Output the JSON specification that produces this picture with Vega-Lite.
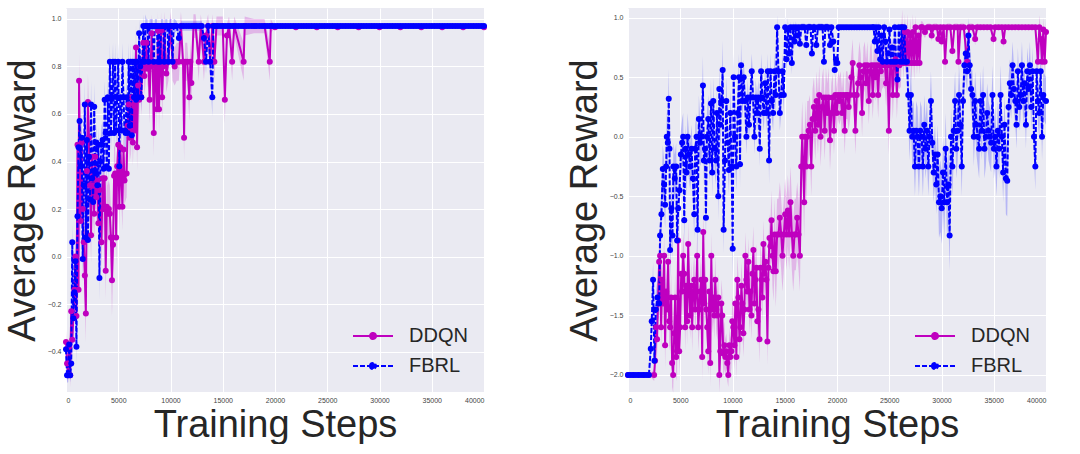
{
"$schema": "https://vega.github.io/schema/vega-lite/v6.json",
"background": "white",
"padding": {"left": 4, "top": 8, "right": 0, "bottom": 0},
"spacing": 78,
"config": {
 "view": {"fill": "#EAEAF2", "stroke": null},
 "font": "Liberation Sans",
 "axis": {"grid": true, "gridColor": "#FFFFFF", "gridWidth": 1, "gridOpacity": 1, "domain": false, "ticks": false, "labelFont": "Liberation Sans", "labelFontSize": 7, "labelColor": "#444444", "labelPadding": 5, "titleFont": "Liberation Sans", "titleFontSize": 38, "titleFontWeight": "normal", "titleColor": "#262626", "titlePadding": 5},
 "axisX": {"labelPadding": 4, "titlePadding": 3},
 "legend": {"orient": "bottom-right", "offset": 16, "labelFontSize": 20, "labelColor": "#262626", "labelFont": "Liberation Sans", "symbolType": "M-2,0L2,0M-0.3,0A0.3,0.3,0,1,1,0.3,0A0.3,0.3,0,1,1,-0.3,0Z", "symbolSize": 400, "symbolStrokeWidth": 2, "rowPadding": 9, "labelOffset": 25, "padding": 0}
},
"datasets": {
"left": [
{"a":"DDQN","x":0,"y":-0.36,"e":0.05},{"a":"DDQN","x":100,"y":-0.45,"e":0.05},{"a":"DDQN","x":200,"y":-0.5,"e":0.03},{"a":"DDQN","x":300,"y":-0.38,"e":0.05},{"a":"DDQN","x":400,"y":-0.5,"e":0.05},{"a":"DDQN","x":500,"y":-0.23,"e":0.08},{"a":"DDQN","x":600,"y":-0.35,"e":0.08},{"a":"DDQN","x":700,"y":-0.26,"e":0.08},{"a":"DDQN","x":800,"y":-0.14,"e":0.08},{"a":"DDQN","x":900,"y":0.0,"e":0.1},{"a":"DDQN","x":1000,"y":-0.25,"e":0.1},{"a":"DDQN","x":1100,"y":0.47,"e":0.12},{"a":"DDQN","x":1200,"y":-0.14,"e":0.12},{"a":"DDQN","x":1250,"y":0.74,"e":0.12},{"a":"DDQN","x":1400,"y":0.15,"e":0.12},{"a":"DDQN","x":1500,"y":0.48,"e":0.12},{"a":"DDQN","x":1600,"y":0.2,"e":0.12},{"a":"DDQN","x":1700,"y":0.06,"e":0.12},{"a":"DDQN","x":1800,"y":-0.08,"e":0.12},{"a":"DDQN","x":1900,"y":-0.24,"e":0.12},{"a":"DDQN","x":2000,"y":0.36,"e":0.12},{"a":"DDQN","x":2100,"y":0.65,"e":0.12},{"a":"DDQN","x":2200,"y":0.5,"e":0.12},{"a":"DDQN","x":2300,"y":0.3,"e":0.12},{"a":"DDQN","x":2400,"y":0.09,"e":0.12},{"a":"DDQN","x":2500,"y":0.42,"e":0.12},{"a":"DDQN","x":2600,"y":0.3,"e":0.12},{"a":"DDQN","x":2700,"y":0.18,"e":0.12},{"a":"DDQN","x":2800,"y":0.42,"e":0.12},{"a":"DDQN","x":2900,"y":0.25,"e":0.12},{"a":"DDQN","x":3000,"y":0.32,"e":0.12},{"a":"DDQN","x":3100,"y":0.14,"e":0.12},{"a":"DDQN","x":3200,"y":0.28,"e":0.12},{"a":"DDQN","x":3400,"y":0.06,"e":0.12},{"a":"DDQN","x":3500,"y":0.33,"e":0.12},{"a":"DDQN","x":3600,"y":0.2,"e":0.12},{"a":"DDQN","x":3700,"y":0.33,"e":0.12},{"a":"DDQN","x":3800,"y":-0.06,"e":0.12},{"a":"DDQN","x":3900,"y":0.21,"e":0.12},{"a":"DDQN","x":4000,"y":0.18,"e":0.12},{"a":"DDQN","x":4100,"y":0.2,"e":0.12},{"a":"DDQN","x":4200,"y":0.18,"e":0.12},{"a":"DDQN","x":4300,"y":0.08,"e":0.12},{"a":"DDQN","x":4400,"y":-0.1,"e":0.15},{"a":"DDQN","x":4500,"y":0.05,"e":0.12},{"a":"DDQN","x":4600,"y":0.34,"e":0.12},{"a":"DDQN","x":4700,"y":0.35,"e":0.12},{"a":"DDQN","x":4800,"y":0.08,"e":0.12},{"a":"DDQN","x":4900,"y":0.38,"e":0.12},{"a":"DDQN","x":5000,"y":0.47,"e":0.1},{"a":"DDQN","x":5100,"y":0.21,"e":0.1},{"a":"DDQN","x":5200,"y":0.46,"e":0.1},{"a":"DDQN","x":5300,"y":0.33,"e":0.1},{"a":"DDQN","x":5400,"y":0.21,"e":0.1},{"a":"DDQN","x":5500,"y":0.45,"e":0.1},{"a":"DDQN","x":5600,"y":0.32,"e":0.1},{"a":"DDQN","x":5800,"y":0.35,"e":0.1},{"a":"DDQN","x":5900,"y":0.55,"e":0.1},{"a":"DDQN","x":6000,"y":0.64,"e":0.1},{"a":"DDQN","x":6100,"y":0.5,"e":0.1},{"a":"DDQN","x":6200,"y":0.53,"e":0.1},{"a":"DDQN","x":6300,"y":0.67,"e":0.1},{"a":"DDQN","x":6400,"y":0.48,"e":0.1},{"a":"DDQN","x":6500,"y":0.64,"e":0.1},{"a":"DDQN","x":6600,"y":0.53,"e":0.1},{"a":"DDQN","x":6700,"y":0.88,"e":0.1},{"a":"DDQN","x":6800,"y":0.46,"e":0.1},{"a":"DDQN","x":6900,"y":0.72,"e":0.1},{"a":"DDQN","x":7000,"y":0.66,"e":0.1},{"a":"DDQN","x":7100,"y":0.8,"e":0.08},{"a":"DDQN","x":7200,"y":0.67,"e":0.08},{"a":"DDQN","x":7300,"y":0.8,"e":0.08},{"a":"DDQN","x":7400,"y":0.9,"e":0.08},{"a":"DDQN","x":7500,"y":0.76,"e":0.08},{"a":"DDQN","x":7600,"y":0.8,"e":0.08},{"a":"DDQN","x":7700,"y":0.9,"e":0.08},{"a":"DDQN","x":7800,"y":0.79,"e":0.08},{"a":"DDQN","x":7900,"y":0.82,"e":0.08},{"a":"DDQN","x":8000,"y":0.66,"e":0.1},{"a":"DDQN","x":8100,"y":0.8,"e":0.08},{"a":"DDQN","x":8200,"y":0.94,"e":0.08},{"a":"DDQN","x":8300,"y":0.82,"e":0.08},{"a":"DDQN","x":8400,"y":0.52,"e":0.1},{"a":"DDQN","x":8500,"y":0.78,"e":0.08},{"a":"DDQN","x":8600,"y":0.8,"e":0.08},{"a":"DDQN","x":8700,"y":0.62,"e":0.1},{"a":"DDQN","x":8800,"y":0.95,"e":0.08},{"a":"DDQN","x":8900,"y":0.62,"e":0.1},{"a":"DDQN","x":9000,"y":0.8,"e":0.08},{"a":"DDQN","x":9100,"y":0.95,"e":0.08},{"a":"DDQN","x":9200,"y":0.67,"e":0.1},{"a":"DDQN","x":9300,"y":0.8,"e":0.08},{"a":"DDQN","x":9400,"y":0.97,"e":0.06},{"a":"DDQN","x":9600,"y":0.77,"e":0.08},{"a":"DDQN","x":9800,"y":0.82,"e":0.08},{"a":"DDQN","x":10000,"y":0.97,"e":0.06},{"a":"DDQN","x":10200,"y":0.82,"e":0.08},{"a":"DDQN","x":10400,"y":0.8,"e":0.08},{"a":"DDQN","x":10600,"y":0.82,"e":0.08},{"a":"DDQN","x":10800,"y":0.82,"e":0.08},{"a":"DDQN","x":11000,"y":0.97,"e":0.06},{"a":"DDQN","x":11200,"y":0.82,"e":0.08},{"a":"DDQN","x":11300,"y":0.5,"e":0.1},{"a":"DDQN","x":11400,"y":0.82,"e":0.08},{"a":"DDQN","x":11600,"y":0.82,"e":0.08},{"a":"DDQN","x":11800,"y":0.67,"e":0.1},{"a":"DDQN","x":11900,"y":0.82,"e":0.08},{"a":"DDQN","x":12000,"y":0.73,"e":0.08},{"a":"DDQN","x":12200,"y":0.97,"e":0.05},{"a":"DDQN","x":12400,"y":0.97,"e":0.05},{"a":"DDQN","x":12700,"y":0.82,"e":0.08},{"a":"DDQN","x":12900,"y":0.97,"e":0.05},{"a":"DDQN","x":13200,"y":0.82,"e":0.08},{"a":"DDQN","x":13400,"y":0.93,"e":0.05},{"a":"DDQN","x":13600,"y":0.97,"e":0.05},{"a":"DDQN","x":13800,"y":0.82,"e":0.08},{"a":"DDQN","x":14000,"y":0.97,"e":0.05},{"a":"DDQN","x":14200,"y":0.82,"e":0.08},{"a":"DDQN","x":14400,"y":0.97,"e":0.04},{"a":"DDQN","x":15000,"y":0.97,"e":0.04},{"a":"DDQN","x":15200,"y":0.66,"e":0.1},{"a":"DDQN","x":15400,"y":0.93,"e":0.05},{"a":"DDQN","x":15600,"y":0.97,"e":0.04},{"a":"DDQN","x":15900,"y":0.82,"e":0.08},{"a":"DDQN","x":16100,"y":0.97,"e":0.04},{"a":"DDQN","x":17000,"y":0.82,"e":0.08},{"a":"DDQN","x":17100,"y":0.97,"e":0.04},{"a":"DDQN","x":18000,"y":0.97,"e":0.03},{"a":"DDQN","x":19000,"y":0.97,"e":0.03},{"a":"DDQN","x":19500,"y":0.82,"e":0.08},{"a":"DDQN","x":19600,"y":0.97,"e":0.03},{"a":"DDQN","x":20000,"y":0.965,"e":0},{"a":"DDQN","x":22000,"y":0.965,"e":0},{"a":"DDQN","x":24000,"y":0.965,"e":0},{"a":"DDQN","x":26000,"y":0.965,"e":0},{"a":"DDQN","x":28000,"y":0.965,"e":0},{"a":"DDQN","x":30000,"y":0.965,"e":0},{"a":"DDQN","x":32000,"y":0.965,"e":0},{"a":"DDQN","x":34000,"y":0.965,"e":0},{"a":"DDQN","x":36000,"y":0.965,"e":0},{"a":"DDQN","x":38000,"y":0.965,"e":0},{"a":"DDQN","x":40000,"y":0.965,"e":0},
{"a":"FBRL","x":0,"y":-0.39,"e":0.05},{"a":"FBRL","x":100,"y":-0.5,"e":0.03},{"a":"FBRL","x":200,"y":-0.5,"e":0.03},{"a":"FBRL","x":300,"y":-0.37,"e":0.05},{"a":"FBRL","x":400,"y":-0.5,"e":0.03},{"a":"FBRL","x":500,"y":-0.45,"e":0.05},{"a":"FBRL","x":600,"y":0.06,"e":0.08},{"a":"FBRL","x":700,"y":-0.26,"e":0.08},{"a":"FBRL","x":800,"y":-0.15,"e":0.08},{"a":"FBRL","x":900,"y":-0.02,"e":0.08},{"a":"FBRL","x":1000,"y":-0.38,"e":0.08},{"a":"FBRL","x":1100,"y":0.17,"e":0.1},{"a":"FBRL","x":1200,"y":0.46,"e":0.1},{"a":"FBRL","x":1300,"y":0.57,"e":0.1},{"a":"FBRL","x":1400,"y":0.38,"e":0.1},{"a":"FBRL","x":1500,"y":0.5,"e":0.1},{"a":"FBRL","x":1600,"y":-0.01,"e":0.1},{"a":"FBRL","x":1700,"y":0.3,"e":0.1},{"a":"FBRL","x":1800,"y":0.64,"e":0.1},{"a":"FBRL","x":1900,"y":0.08,"e":0.1},{"a":"FBRL","x":2000,"y":0.49,"e":0.1},{"a":"FBRL","x":2100,"y":0.07,"e":0.1},{"a":"FBRL","x":2200,"y":0.42,"e":0.1},{"a":"FBRL","x":2300,"y":0.24,"e":0.1},{"a":"FBRL","x":2400,"y":0.64,"e":0.1},{"a":"FBRL","x":2500,"y":0.33,"e":0.1},{"a":"FBRL","x":2600,"y":0.23,"e":0.1},{"a":"FBRL","x":2700,"y":0.63,"e":0.1},{"a":"FBRL","x":2800,"y":0.35,"e":0.1},{"a":"FBRL","x":2900,"y":0.48,"e":0.08},{"a":"FBRL","x":3000,"y":0.3,"e":0.08},{"a":"FBRL","x":3100,"y":0.47,"e":0.08},{"a":"FBRL","x":3200,"y":-0.09,"e":0.1},{"a":"FBRL","x":3300,"y":0.4,"e":0.08},{"a":"FBRL","x":3400,"y":0.47,"e":0.08},{"a":"FBRL","x":3500,"y":0.49,"e":0.08},{"a":"FBRL","x":3600,"y":0.37,"e":0.08},{"a":"FBRL","x":3700,"y":0.66,"e":0.08},{"a":"FBRL","x":3800,"y":0.52,"e":0.08},{"a":"FBRL","x":3900,"y":0.38,"e":0.08},{"a":"FBRL","x":4000,"y":0.67,"e":0.08},{"a":"FBRL","x":4100,"y":0.37,"e":0.08},{"a":"FBRL","x":4200,"y":0.82,"e":0.08},{"a":"FBRL","x":4300,"y":0.52,"e":0.08},{"a":"FBRL","x":4400,"y":0.67,"e":0.08},{"a":"FBRL","x":4500,"y":0.82,"e":0.08},{"a":"FBRL","x":4600,"y":0.52,"e":0.08},{"a":"FBRL","x":4700,"y":0.82,"e":0.08},{"a":"FBRL","x":4800,"y":0.53,"e":0.08},{"a":"FBRL","x":4900,"y":0.67,"e":0.08},{"a":"FBRL","x":5000,"y":0.82,"e":0.08},{"a":"FBRL","x":5100,"y":0.38,"e":0.08},{"a":"FBRL","x":5200,"y":0.67,"e":0.08},{"a":"FBRL","x":5300,"y":0.53,"e":0.08},{"a":"FBRL","x":5400,"y":0.82,"e":0.08},{"a":"FBRL","x":5500,"y":0.67,"e":0.08},{"a":"FBRL","x":5600,"y":0.53,"e":0.08},{"a":"FBRL","x":5700,"y":0.52,"e":0.08},{"a":"FBRL","x":5800,"y":0.67,"e":0.08},{"a":"FBRL","x":5900,"y":0.52,"e":0.08},{"a":"FBRL","x":6000,"y":0.82,"e":0.08},{"a":"FBRL","x":6100,"y":0.55,"e":0.08},{"a":"FBRL","x":6200,"y":0.82,"e":0.08},{"a":"FBRL","x":6300,"y":0.51,"e":0.08},{"a":"FBRL","x":6400,"y":0.82,"e":0.08},{"a":"FBRL","x":6500,"y":0.67,"e":0.08},{"a":"FBRL","x":6600,"y":0.82,"e":0.08},{"a":"FBRL","x":6700,"y":0.66,"e":0.08},{"a":"FBRL","x":6800,"y":0.82,"e":0.06},{"a":"FBRL","x":6900,"y":0.67,"e":0.06},{"a":"FBRL","x":7000,"y":0.94,"e":0.06},{"a":"FBRL","x":7100,"y":0.8,"e":0.06},{"a":"FBRL","x":7200,"y":0.67,"e":0.06},{"a":"FBRL","x":7300,"y":0.82,"e":0.06},{"a":"FBRL","x":7400,"y":0.97,"e":0.05},{"a":"FBRL","x":7500,"y":0.82,"e":0.05},{"a":"FBRL","x":7600,"y":0.97,"e":0.05},{"a":"FBRL","x":7700,"y":0.97,"e":0.03},{"a":"FBRL","x":7800,"y":0.97,"e":0.03},{"a":"FBRL","x":7900,"y":0.82,"e":0.05},{"a":"FBRL","x":8000,"y":0.97,"e":0.03},{"a":"FBRL","x":8100,"y":0.97,"e":0.03},{"a":"FBRL","x":8200,"y":0.97,"e":0.03},{"a":"FBRL","x":8300,"y":0.97,"e":0.03},{"a":"FBRL","x":8400,"y":0.82,"e":0.05},{"a":"FBRL","x":8500,"y":0.97,"e":0.03},{"a":"FBRL","x":8600,"y":0.97,"e":0.03},{"a":"FBRL","x":8700,"y":0.97,"e":0.03},{"a":"FBRL","x":8800,"y":0.82,"e":0.05},{"a":"FBRL","x":8900,"y":0.97,"e":0.03},{"a":"FBRL","x":9000,"y":0.82,"e":0.05},{"a":"FBRL","x":9100,"y":0.97,"e":0.03},{"a":"FBRL","x":9200,"y":0.97,"e":0.03},{"a":"FBRL","x":9300,"y":0.97,"e":0.03},{"a":"FBRL","x":9400,"y":0.82,"e":0.05},{"a":"FBRL","x":9500,"y":0.97,"e":0.03},{"a":"FBRL","x":9600,"y":0.97,"e":0.03},{"a":"FBRL","x":9700,"y":0.97,"e":0.03},{"a":"FBRL","x":9800,"y":0.82,"e":0.05},{"a":"FBRL","x":9900,"y":0.97,"e":0.03},{"a":"FBRL","x":10000,"y":0.97,"e":0.03},{"a":"FBRL","x":10100,"y":0.97,"e":0.03},{"a":"FBRL","x":10200,"y":0.82,"e":0.05},{"a":"FBRL","x":10300,"y":0.97,"e":0.03},{"a":"FBRL","x":10400,"y":0.97,"e":0.03},{"a":"FBRL","x":10600,"y":0.97,"e":0.02},{"a":"FBRL","x":10800,"y":0.92,"e":0.03},{"a":"FBRL","x":11000,"y":0.97,"e":0.02},{"a":"FBRL","x":11250,"y":0.97,"e":0.02},{"a":"FBRL","x":11500,"y":0.97,"e":0.02},{"a":"FBRL","x":11750,"y":0.97,"e":0.02},{"a":"FBRL","x":12000,"y":0.97,"e":0.02},{"a":"FBRL","x":12250,"y":0.97,"e":0.02},{"a":"FBRL","x":12500,"y":0.97,"e":0.02},{"a":"FBRL","x":12750,"y":0.97,"e":0.02},{"a":"FBRL","x":13000,"y":0.97,"e":0.02},{"a":"FBRL","x":13200,"y":0.92,"e":0.03},{"a":"FBRL","x":13400,"y":0.82,"e":0.05},{"a":"FBRL","x":13600,"y":0.97,"e":0.03},{"a":"FBRL","x":13800,"y":0.82,"e":0.05},{"a":"FBRL","x":14000,"y":0.67,"e":0.08},{"a":"FBRL","x":14100,"y":0.97,"e":0.02},{"a":"FBRL","x":14250,"y":0.97,"e":0},{"a":"FBRL","x":14500,"y":0.97,"e":0},{"a":"FBRL","x":14750,"y":0.97,"e":0},{"a":"FBRL","x":15000,"y":0.97,"e":0},{"a":"FBRL","x":15250,"y":0.97,"e":0},{"a":"FBRL","x":15500,"y":0.97,"e":0},{"a":"FBRL","x":15750,"y":0.97,"e":0},{"a":"FBRL","x":16000,"y":0.97,"e":0},{"a":"FBRL","x":16250,"y":0.97,"e":0},{"a":"FBRL","x":16500,"y":0.97,"e":0},{"a":"FBRL","x":16750,"y":0.97,"e":0},{"a":"FBRL","x":17000,"y":0.97,"e":0},{"a":"FBRL","x":17250,"y":0.97,"e":0},{"a":"FBRL","x":17500,"y":0.97,"e":0},{"a":"FBRL","x":17750,"y":0.97,"e":0},{"a":"FBRL","x":18000,"y":0.97,"e":0},{"a":"FBRL","x":18250,"y":0.97,"e":0},{"a":"FBRL","x":18500,"y":0.97,"e":0},{"a":"FBRL","x":18750,"y":0.97,"e":0},{"a":"FBRL","x":19000,"y":0.97,"e":0},{"a":"FBRL","x":19250,"y":0.97,"e":0},{"a":"FBRL","x":19500,"y":0.97,"e":0},{"a":"FBRL","x":19750,"y":0.97,"e":0},{"a":"FBRL","x":20000,"y":0.97,"e":0},{"a":"FBRL","x":20250,"y":0.97,"e":0},{"a":"FBRL","x":20500,"y":0.97,"e":0},{"a":"FBRL","x":20750,"y":0.97,"e":0},{"a":"FBRL","x":21000,"y":0.97,"e":0},{"a":"FBRL","x":21250,"y":0.97,"e":0},{"a":"FBRL","x":21500,"y":0.97,"e":0},{"a":"FBRL","x":21750,"y":0.97,"e":0},{"a":"FBRL","x":22000,"y":0.97,"e":0},{"a":"FBRL","x":22250,"y":0.97,"e":0},{"a":"FBRL","x":22500,"y":0.97,"e":0},{"a":"FBRL","x":22750,"y":0.97,"e":0},{"a":"FBRL","x":23000,"y":0.97,"e":0},{"a":"FBRL","x":23250,"y":0.97,"e":0},{"a":"FBRL","x":23500,"y":0.97,"e":0},{"a":"FBRL","x":23750,"y":0.97,"e":0},{"a":"FBRL","x":24000,"y":0.97,"e":0},{"a":"FBRL","x":24250,"y":0.97,"e":0},{"a":"FBRL","x":24500,"y":0.97,"e":0},{"a":"FBRL","x":24750,"y":0.97,"e":0},{"a":"FBRL","x":25000,"y":0.97,"e":0},{"a":"FBRL","x":25250,"y":0.97,"e":0},{"a":"FBRL","x":25500,"y":0.97,"e":0},{"a":"FBRL","x":25750,"y":0.97,"e":0},{"a":"FBRL","x":26000,"y":0.97,"e":0},{"a":"FBRL","x":26250,"y":0.97,"e":0},{"a":"FBRL","x":26500,"y":0.97,"e":0},{"a":"FBRL","x":26750,"y":0.97,"e":0},{"a":"FBRL","x":27000,"y":0.97,"e":0},{"a":"FBRL","x":27250,"y":0.97,"e":0},{"a":"FBRL","x":27500,"y":0.97,"e":0},{"a":"FBRL","x":27750,"y":0.97,"e":0},{"a":"FBRL","x":28000,"y":0.97,"e":0},{"a":"FBRL","x":28250,"y":0.97,"e":0},{"a":"FBRL","x":28500,"y":0.97,"e":0},{"a":"FBRL","x":28750,"y":0.97,"e":0},{"a":"FBRL","x":29000,"y":0.97,"e":0},{"a":"FBRL","x":29250,"y":0.97,"e":0},{"a":"FBRL","x":29500,"y":0.97,"e":0},{"a":"FBRL","x":29750,"y":0.97,"e":0},{"a":"FBRL","x":30000,"y":0.97,"e":0},{"a":"FBRL","x":30250,"y":0.97,"e":0},{"a":"FBRL","x":30500,"y":0.97,"e":0},{"a":"FBRL","x":30750,"y":0.97,"e":0},{"a":"FBRL","x":31000,"y":0.97,"e":0},{"a":"FBRL","x":31250,"y":0.97,"e":0},{"a":"FBRL","x":31500,"y":0.97,"e":0},{"a":"FBRL","x":31750,"y":0.97,"e":0},{"a":"FBRL","x":32000,"y":0.97,"e":0},{"a":"FBRL","x":32250,"y":0.97,"e":0},{"a":"FBRL","x":32500,"y":0.97,"e":0},{"a":"FBRL","x":32750,"y":0.97,"e":0},{"a":"FBRL","x":33000,"y":0.97,"e":0},{"a":"FBRL","x":33250,"y":0.97,"e":0},{"a":"FBRL","x":33500,"y":0.97,"e":0},{"a":"FBRL","x":33750,"y":0.97,"e":0},{"a":"FBRL","x":34000,"y":0.97,"e":0},{"a":"FBRL","x":34250,"y":0.97,"e":0},{"a":"FBRL","x":34500,"y":0.97,"e":0},{"a":"FBRL","x":34750,"y":0.97,"e":0},{"a":"FBRL","x":35000,"y":0.97,"e":0},{"a":"FBRL","x":35250,"y":0.97,"e":0},{"a":"FBRL","x":35500,"y":0.97,"e":0},{"a":"FBRL","x":35750,"y":0.97,"e":0},{"a":"FBRL","x":36000,"y":0.97,"e":0},{"a":"FBRL","x":36250,"y":0.97,"e":0},{"a":"FBRL","x":36500,"y":0.97,"e":0},{"a":"FBRL","x":36750,"y":0.97,"e":0},{"a":"FBRL","x":37000,"y":0.97,"e":0},{"a":"FBRL","x":37250,"y":0.97,"e":0},{"a":"FBRL","x":37500,"y":0.97,"e":0},{"a":"FBRL","x":37750,"y":0.97,"e":0},{"a":"FBRL","x":38000,"y":0.97,"e":0},{"a":"FBRL","x":38250,"y":0.97,"e":0},{"a":"FBRL","x":38500,"y":0.97,"e":0},{"a":"FBRL","x":38750,"y":0.97,"e":0},{"a":"FBRL","x":39000,"y":0.97,"e":0},{"a":"FBRL","x":39250,"y":0.97,"e":0},{"a":"FBRL","x":39500,"y":0.97,"e":0},{"a":"FBRL","x":39750,"y":0.97,"e":0},{"a":"FBRL","x":40000,"y":0.97,"e":0}
],
"right": [
{"a":"DDQN","x":0,"y":-2,"e":0},{"a":"DDQN","x":500,"y":-2,"e":0},{"a":"DDQN","x":1000,"y":-2,"e":0},{"a":"DDQN","x":1500,"y":-2,"e":0},{"a":"DDQN","x":2000,"y":-2,"e":0},{"a":"DDQN","x":2500,"y":-2,"e":0.05},{"a":"DDQN","x":2590,"y":-1.88,"e":0.1},{"a":"DDQN","x":2690,"y":-1.6,"e":0.15},{"a":"DDQN","x":2780,"y":-1.7,"e":0.15},{"a":"DDQN","x":2880,"y":-1.35,"e":0.2},{"a":"DDQN","x":2980,"y":-1.05,"e":0.2},{"a":"DDQN","x":3070,"y":-1.0,"e":0.2},{"a":"DDQN","x":3170,"y":-1.6,"e":0.2},{"a":"DDQN","x":3260,"y":-1.2,"e":0.2},{"a":"DDQN","x":3360,"y":-1.4,"e":0.2},{"a":"DDQN","x":3460,"y":-1.0,"e":0.2},{"a":"DDQN","x":3550,"y":-1.75,"e":0.2},{"a":"DDQN","x":3650,"y":-1.3,"e":0.2},{"a":"DDQN","x":3740,"y":-1.45,"e":0.2},{"a":"DDQN","x":3840,"y":-1.05,"e":0.2},{"a":"DDQN","x":3940,"y":-1.55,"e":0.2},{"a":"DDQN","x":4030,"y":-1.6,"e":0.2},{"a":"DDQN","x":4130,"y":-1.35,"e":0.2},{"a":"DDQN","x":4220,"y":-1.9,"e":0.2},{"a":"DDQN","x":4320,"y":-2.0,"e":0.15},{"a":"DDQN","x":4420,"y":-1.65,"e":0.2},{"a":"DDQN","x":4510,"y":-1.35,"e":0.2},{"a":"DDQN","x":4610,"y":-1.85,"e":0.2},{"a":"DDQN","x":4700,"y":-1.8,"e":0.2},{"a":"DDQN","x":4800,"y":-0.87,"e":0.25},{"a":"DDQN","x":4900,"y":-1.8,"e":0.2},{"a":"DDQN","x":4990,"y":-1.6,"e":0.2},{"a":"DDQN","x":5090,"y":-1.15,"e":0.2},{"a":"DDQN","x":5180,"y":-1.3,"e":0.2},{"a":"DDQN","x":5280,"y":-1.0,"e":0.2},{"a":"DDQN","x":5380,"y":-1.15,"e":0.2},{"a":"DDQN","x":5470,"y":-1.6,"e":0.2},{"a":"DDQN","x":5570,"y":-1.25,"e":0.2},{"a":"DDQN","x":5660,"y":-1.55,"e":0.2},{"a":"DDQN","x":5760,"y":-0.9,"e":0.2},{"a":"DDQN","x":5860,"y":-1.3,"e":0.2},{"a":"DDQN","x":5950,"y":-1.5,"e":0.2},{"a":"DDQN","x":6050,"y":-1.25,"e":0.2},{"a":"DDQN","x":6140,"y":-1.6,"e":0.2},{"a":"DDQN","x":6240,"y":-1.3,"e":0.2},{"a":"DDQN","x":6340,"y":-1.2,"e":0.2},{"a":"DDQN","x":6430,"y":-1.45,"e":0.2},{"a":"DDQN","x":6530,"y":-1.3,"e":0.2},{"a":"DDQN","x":6620,"y":-1.0,"e":0.2},{"a":"DDQN","x":6720,"y":-1.6,"e":0.2},{"a":"DDQN","x":6820,"y":-1.45,"e":0.2},{"a":"DDQN","x":6910,"y":-1.3,"e":0.2},{"a":"DDQN","x":7010,"y":-1.2,"e":0.2},{"a":"DDQN","x":7100,"y":-1.85,"e":0.2},{"a":"DDQN","x":7200,"y":-0.8,"e":0.25},{"a":"DDQN","x":7300,"y":-1.4,"e":0.2},{"a":"DDQN","x":7390,"y":-1.2,"e":0.2},{"a":"DDQN","x":7490,"y":-1.45,"e":0.2},{"a":"DDQN","x":7580,"y":-1.6,"e":0.2},{"a":"DDQN","x":7680,"y":-1.8,"e":0.2},{"a":"DDQN","x":7780,"y":-1.3,"e":0.2},{"a":"DDQN","x":7870,"y":-1.9,"e":0.2},{"a":"DDQN","x":7970,"y":-1.0,"e":0.2},{"a":"DDQN","x":8060,"y":-1.45,"e":0.2},{"a":"DDQN","x":8160,"y":-1.35,"e":0.2},{"a":"DDQN","x":8260,"y":-1.5,"e":0.2},{"a":"DDQN","x":8350,"y":-1.2,"e":0.2},{"a":"DDQN","x":8450,"y":-1.45,"e":0.2},{"a":"DDQN","x":8540,"y":-1.5,"e":0.2},{"a":"DDQN","x":8640,"y":-1.35,"e":0.2},{"a":"DDQN","x":8740,"y":-2.0,"e":0.15},{"a":"DDQN","x":8830,"y":-1.8,"e":0.2},{"a":"DDQN","x":8930,"y":-1.4,"e":0.2},{"a":"DDQN","x":9020,"y":-1.5,"e":0.2},{"a":"DDQN","x":9120,"y":-1.82,"e":0.2},{"a":"DDQN","x":9220,"y":-1.75,"e":0.2},{"a":"DDQN","x":9310,"y":-1.85,"e":0.15},{"a":"DDQN","x":9410,"y":-1.8,"e":0.15},{"a":"DDQN","x":9500,"y":-1.9,"e":0.15},{"a":"DDQN","x":9600,"y":-2.0,"e":0.1},{"a":"DDQN","x":9700,"y":-1.75,"e":0.15},{"a":"DDQN","x":9790,"y":-1.85,"e":0.15},{"a":"DDQN","x":9890,"y":-1.8,"e":0.15},{"a":"DDQN","x":9980,"y":-1.55,"e":0.2},{"a":"DDQN","x":10080,"y":-1.6,"e":0.2},{"a":"DDQN","x":10180,"y":-1.75,"e":0.2},{"a":"DDQN","x":10270,"y":-1.4,"e":0.2},{"a":"DDQN","x":10370,"y":-1.85,"e":0.2},{"a":"DDQN","x":10460,"y":-1.2,"e":0.2},{"a":"DDQN","x":10560,"y":-1.35,"e":0.2},{"a":"DDQN","x":10660,"y":-1.7,"e":0.2},{"a":"DDQN","x":10750,"y":-1.6,"e":0.2},{"a":"DDQN","x":10850,"y":-1.25,"e":0.2},{"a":"DDQN","x":10940,"y":-1.4,"e":0.2},{"a":"DDQN","x":11040,"y":-1.65,"e":0.2},{"a":"DDQN","x":11140,"y":-1.45,"e":0.2},{"a":"DDQN","x":11230,"y":-1.0,"e":0.2},{"a":"DDQN","x":11330,"y":-1.2,"e":0.2},{"a":"DDQN","x":11420,"y":-1.3,"e":0.2},{"a":"DDQN","x":11520,"y":-1.05,"e":0.2},{"a":"DDQN","x":11620,"y":-1.45,"e":0.2},{"a":"DDQN","x":11710,"y":-1.3,"e":0.2},{"a":"DDQN","x":11810,"y":-1.5,"e":0.2},{"a":"DDQN","x":11900,"y":-1.15,"e":0.2},{"a":"DDQN","x":12000,"y":-0.95,"e":0.2},{"a":"DDQN","x":12100,"y":-1.4,"e":0.2},{"a":"DDQN","x":12190,"y":-1.2,"e":0.2},{"a":"DDQN","x":12290,"y":-1.1,"e":0.2},{"a":"DDQN","x":12380,"y":-1.55,"e":0.2},{"a":"DDQN","x":12480,"y":-1.45,"e":0.2},{"a":"DDQN","x":12580,"y":-1.7,"e":0.2},{"a":"DDQN","x":12670,"y":-1.1,"e":0.2},{"a":"DDQN","x":12770,"y":-1.2,"e":0.2},{"a":"DDQN","x":12860,"y":-1.35,"e":0.2},{"a":"DDQN","x":12960,"y":-0.9,"e":0.2},{"a":"DDQN","x":13060,"y":-1.15,"e":0.2},{"a":"DDQN","x":13150,"y":-1.05,"e":0.2},{"a":"DDQN","x":13250,"y":-1.2,"e":0.2},{"a":"DDQN","x":13340,"y":-1.72,"e":0.2},{"a":"DDQN","x":13440,"y":-1.1,"e":0.2},{"a":"DDQN","x":13540,"y":-0.85,"e":0.2},{"a":"DDQN","x":13630,"y":-0.92,"e":0.2},{"a":"DDQN","x":13730,"y":-0.7,"e":0.25},{"a":"DDQN","x":13820,"y":-1.0,"e":0.25},{"a":"DDQN","x":13920,"y":-1.13,"e":0.25},{"a":"DDQN","x":14020,"y":-0.82,"e":0.3},{"a":"DDQN","x":14140,"y":-1.13,"e":0.3},{"a":"DDQN","x":14270,"y":-0.82,"e":0.3},{"a":"DDQN","x":14400,"y":-0.82,"e":0.3},{"a":"DDQN","x":14530,"y":-0.68,"e":0.3},{"a":"DDQN","x":14660,"y":-0.82,"e":0.3},{"a":"DDQN","x":14780,"y":-1.0,"e":0.3},{"a":"DDQN","x":14910,"y":-0.82,"e":0.3},{"a":"DDQN","x":15040,"y":-0.65,"e":0.3},{"a":"DDQN","x":15170,"y":-0.82,"e":0.3},{"a":"DDQN","x":15300,"y":-0.62,"e":0.3},{"a":"DDQN","x":15420,"y":-0.82,"e":0.3},{"a":"DDQN","x":15550,"y":-0.55,"e":0.3},{"a":"DDQN","x":15680,"y":-0.82,"e":0.3},{"a":"DDQN","x":15810,"y":-1.0,"e":0.3},{"a":"DDQN","x":15940,"y":-0.82,"e":0.3},{"a":"DDQN","x":16060,"y":-0.82,"e":0.3},{"a":"DDQN","x":16190,"y":-0.68,"e":0.3},{"a":"DDQN","x":16320,"y":-0.82,"e":0.3},{"a":"DDQN","x":16450,"y":-1.0,"e":0.3},{"a":"DDQN","x":16580,"y":-0.25,"e":0.3},{"a":"DDQN","x":16670,"y":0.0,"e":0.3},{"a":"DDQN","x":16770,"y":-0.25,"e":0.3},{"a":"DDQN","x":16860,"y":-0.55,"e":0.3},{"a":"DDQN","x":16960,"y":0.0,"e":0.3},{"a":"DDQN","x":17060,"y":-0.25,"e":0.3},{"a":"DDQN","x":17150,"y":0.0,"e":0.3},{"a":"DDQN","x":17280,"y":0.05,"e":0.25},{"a":"DDQN","x":17410,"y":0.1,"e":0.25},{"a":"DDQN","x":17540,"y":-0.25,"e":0.25},{"a":"DDQN","x":17660,"y":0.15,"e":0.25},{"a":"DDQN","x":17790,"y":0.25,"e":0.25},{"a":"DDQN","x":17920,"y":0.05,"e":0.25},{"a":"DDQN","x":18050,"y":0.3,"e":0.25},{"a":"DDQN","x":18180,"y":0.1,"e":0.25},{"a":"DDQN","x":18300,"y":0.35,"e":0.25},{"a":"DDQN","x":18430,"y":0.0,"e":0.25},{"a":"DDQN","x":18560,"y":0.25,"e":0.25},{"a":"DDQN","x":18690,"y":0.33,"e":0.25},{"a":"DDQN","x":18820,"y":0.05,"e":0.25},{"a":"DDQN","x":18940,"y":0.33,"e":0.25},{"a":"DDQN","x":19070,"y":0.2,"e":0.25},{"a":"DDQN","x":19200,"y":0.33,"e":0.25},{"a":"DDQN","x":19330,"y":-0.03,"e":0.25},{"a":"DDQN","x":19460,"y":0.2,"e":0.25},{"a":"DDQN","x":19580,"y":0.33,"e":0.2},{"a":"DDQN","x":19710,"y":0.05,"e":0.2},{"a":"DDQN","x":19840,"y":0.35,"e":0.2},{"a":"DDQN","x":19970,"y":0.2,"e":0.2},{"a":"DDQN","x":20100,"y":0.35,"e":0.2},{"a":"DDQN","x":20220,"y":0.3,"e":0.2},{"a":"DDQN","x":20350,"y":0.35,"e":0.2},{"a":"DDQN","x":20480,"y":0.2,"e":0.2},{"a":"DDQN","x":20610,"y":0.35,"e":0.2},{"a":"DDQN","x":20740,"y":0.05,"e":0.2},{"a":"DDQN","x":20860,"y":0.35,"e":0.2},{"a":"DDQN","x":20990,"y":0.35,"e":0.2},{"a":"DDQN","x":21120,"y":0.25,"e":0.2},{"a":"DDQN","x":21250,"y":0.35,"e":0.2},{"a":"DDQN","x":21380,"y":0.5,"e":0.2},{"a":"DDQN","x":21500,"y":0.62,"e":0.2},{"a":"DDQN","x":21630,"y":0.35,"e":0.2},{"a":"DDQN","x":21760,"y":0.05,"e":0.2},{"a":"DDQN","x":21890,"y":0.35,"e":0.2},{"a":"DDQN","x":22020,"y":0.45,"e":0.2},{"a":"DDQN","x":22140,"y":0.6,"e":0.2},{"a":"DDQN","x":22270,"y":0.5,"e":0.2},{"a":"DDQN","x":22400,"y":0.2,"e":0.2},{"a":"DDQN","x":22530,"y":0.55,"e":0.2},{"a":"DDQN","x":22660,"y":0.6,"e":0.2},{"a":"DDQN","x":22780,"y":0.45,"e":0.2},{"a":"DDQN","x":22910,"y":0.6,"e":0.2},{"a":"DDQN","x":23040,"y":0.3,"e":0.2},{"a":"DDQN","x":23170,"y":0.55,"e":0.2},{"a":"DDQN","x":23300,"y":0.6,"e":0.2},{"a":"DDQN","x":23420,"y":0.35,"e":0.2},{"a":"DDQN","x":23550,"y":0.6,"e":0.2},{"a":"DDQN","x":23680,"y":0.5,"e":0.2},{"a":"DDQN","x":23810,"y":0.6,"e":0.2},{"a":"DDQN","x":23940,"y":0.35,"e":0.2},{"a":"DDQN","x":24060,"y":0.6,"e":0.2},{"a":"DDQN","x":24190,"y":0.55,"e":0.2},{"a":"DDQN","x":24320,"y":0.6,"e":0.2},{"a":"DDQN","x":24450,"y":0.62,"e":0.2},{"a":"DDQN","x":24580,"y":0.6,"e":0.2},{"a":"DDQN","x":24700,"y":0.45,"e":0.2},{"a":"DDQN","x":24830,"y":0.6,"e":0.2},{"a":"DDQN","x":24960,"y":0.05,"e":0.2},{"a":"DDQN","x":25090,"y":0.6,"e":0.2},{"a":"DDQN","x":25220,"y":0.62,"e":0.2},{"a":"DDQN","x":25340,"y":0.35,"e":0.2},{"a":"DDQN","x":25470,"y":0.62,"e":0.2},{"a":"DDQN","x":25600,"y":0.65,"e":0.2},{"a":"DDQN","x":25730,"y":0.35,"e":0.2},{"a":"DDQN","x":25860,"y":0.62,"e":0.2},{"a":"DDQN","x":25980,"y":0.6,"e":0.2},{"a":"DDQN","x":26110,"y":0.62,"e":0.2},{"a":"DDQN","x":26240,"y":0.92,"e":0.15},{"a":"DDQN","x":26370,"y":0.62,"e":0.15},{"a":"DDQN","x":26500,"y":0.88,"e":0.15},{"a":"DDQN","x":26620,"y":0.62,"e":0.15},{"a":"DDQN","x":26750,"y":0.88,"e":0.15},{"a":"DDQN","x":26880,"y":0.62,"e":0.15},{"a":"DDQN","x":27010,"y":0.85,"e":0.15},{"a":"DDQN","x":27140,"y":0.62,"e":0.15},{"a":"DDQN","x":27260,"y":0.88,"e":0.15},{"a":"DDQN","x":27390,"y":0.62,"e":0.15},{"a":"DDQN","x":27520,"y":0.92,"e":0.1},{"a":"DDQN","x":27650,"y":0.62,"e":0.1},{"a":"DDQN","x":27780,"y":0.85,"e":0.1},{"a":"DDQN","x":27900,"y":0.62,"e":0.1},{"a":"DDQN","x":28030,"y":0.92,"e":0.05},{"a":"DDQN","x":28160,"y":0.92,"e":0.05},{"a":"DDQN","x":28420,"y":0.88,"e":0.05},{"a":"DDQN","x":28670,"y":0.92,"e":0.03},{"a":"DDQN","x":28930,"y":0.92,"e":0.03},{"a":"DDQN","x":29060,"y":0.85,"e":0.05},{"a":"DDQN","x":29250,"y":0.92,"e":0.03},{"a":"DDQN","x":29570,"y":0.92,"e":0.03},{"a":"DDQN","x":29700,"y":0.82,"e":0.05},{"a":"DDQN","x":29890,"y":0.92,"e":0.03},{"a":"DDQN","x":30020,"y":0.8,"e":0.05},{"a":"DDQN","x":30210,"y":0.92,"e":0.03},{"a":"DDQN","x":30340,"y":0.63,"e":0.08},{"a":"DDQN","x":30530,"y":0.92,"e":0.03},{"a":"DDQN","x":30850,"y":0.92,"e":0.03},{"a":"DDQN","x":31040,"y":0.72,"e":0.05},{"a":"DDQN","x":31230,"y":0.92,"e":0.03},{"a":"DDQN","x":31550,"y":0.92,"e":0.03},{"a":"DDQN","x":31620,"y":0.63,"e":0.08},{"a":"DDQN","x":31810,"y":0.92,"e":0.03},{"a":"DDQN","x":32130,"y":0.92,"e":0.03},{"a":"DDQN","x":32450,"y":0.63,"e":0.08},{"a":"DDQN","x":32640,"y":0.92,"e":0.03},{"a":"DDQN","x":32960,"y":0.92,"e":0.03},{"a":"DDQN","x":33220,"y":0.82,"e":0.05},{"a":"DDQN","x":33410,"y":0.92,"e":0.03},{"a":"DDQN","x":33730,"y":0.92,"e":0.02},{"a":"DDQN","x":34050,"y":0.92,"e":0.02},{"a":"DDQN","x":34370,"y":0.92,"e":0.02},{"a":"DDQN","x":34690,"y":0.92,"e":0.02},{"a":"DDQN","x":34980,"y":0.82,"e":0.05},{"a":"DDQN","x":35140,"y":0.92,"e":0.02},{"a":"DDQN","x":35460,"y":0.92,"e":0.02},{"a":"DDQN","x":35780,"y":0.92,"e":0.02},{"a":"DDQN","x":35940,"y":0.8,"e":0.05},{"a":"DDQN","x":36100,"y":0.92,"e":0.02},{"a":"DDQN","x":36420,"y":0.92,"e":0},{"a":"DDQN","x":36740,"y":0.92,"e":0},{"a":"DDQN","x":37060,"y":0.92,"e":0},{"a":"DDQN","x":37380,"y":0.92,"e":0},{"a":"DDQN","x":37700,"y":0.92,"e":0},{"a":"DDQN","x":38020,"y":0.92,"e":0},{"a":"DDQN","x":38340,"y":0.92,"e":0},{"a":"DDQN","x":38660,"y":0.92,"e":0},{"a":"DDQN","x":38980,"y":0.92,"e":0.02},{"a":"DDQN","x":39230,"y":0.63,"e":0.1},{"a":"DDQN","x":39360,"y":0.92,"e":0.1},{"a":"DDQN","x":39490,"y":0.82,"e":0.1},{"a":"DDQN","x":39620,"y":0.63,"e":0.1},{"a":"DDQN","x":39740,"y":0.9,"e":0.1},{"a":"DDQN","x":39870,"y":0.63,"e":0.1},{"a":"DDQN","x":40000,"y":0.88,"e":0.1},
{"a":"FBRL","x":0,"y":-2,"e":0},{"a":"FBRL","x":250,"y":-2,"e":0},{"a":"FBRL","x":500,"y":-2,"e":0},{"a":"FBRL","x":750,"y":-2,"e":0},{"a":"FBRL","x":1000,"y":-2,"e":0},{"a":"FBRL","x":1250,"y":-2,"e":0},{"a":"FBRL","x":1500,"y":-2,"e":0},{"a":"FBRL","x":1750,"y":-2,"e":0},{"a":"FBRL","x":2000,"y":-2,"e":0},{"a":"FBRL","x":2180,"y":-1.78,"e":0.1},{"a":"FBRL","x":2270,"y":-1.55,"e":0.1},{"a":"FBRL","x":2400,"y":-1.2,"e":0.15},{"a":"FBRL","x":2530,"y":-1.88,"e":0.1},{"a":"FBRL","x":2660,"y":-1.45,"e":0.15},{"a":"FBRL","x":2820,"y":-1.35,"e":0.15},{"a":"FBRL","x":2980,"y":-1.4,"e":0.15},{"a":"FBRL","x":3070,"y":-0.83,"e":0.2},{"a":"FBRL","x":3200,"y":-0.65,"e":0.2},{"a":"FBRL","x":3330,"y":-0.27,"e":0.2},{"a":"FBRL","x":3460,"y":-0.4,"e":0.2},{"a":"FBRL","x":3550,"y":-0.57,"e":0.2},{"a":"FBRL","x":3650,"y":-0.25,"e":0.2},{"a":"FBRL","x":3710,"y":0.0,"e":0.2},{"a":"FBRL","x":3810,"y":-0.05,"e":0.2},{"a":"FBRL","x":3900,"y":0.32,"e":0.25},{"a":"FBRL","x":3970,"y":-0.1,"e":0.2},{"a":"FBRL","x":4030,"y":-0.95,"e":0.25},{"a":"FBRL","x":4160,"y":-0.6,"e":0.2},{"a":"FBRL","x":4260,"y":-0.83,"e":0.2},{"a":"FBRL","x":4350,"y":-0.25,"e":0.2},{"a":"FBRL","x":4480,"y":-0.35,"e":0.2},{"a":"FBRL","x":4610,"y":-0.25,"e":0.2},{"a":"FBRL","x":4700,"y":-0.87,"e":0.2},{"a":"FBRL","x":4800,"y":-0.6,"e":0.2},{"a":"FBRL","x":4930,"y":-0.45,"e":0.2},{"a":"FBRL","x":5060,"y":-0.15,"e":0.2},{"a":"FBRL","x":5180,"y":-0.05,"e":0.2},{"a":"FBRL","x":5280,"y":0.0,"e":0.2},{"a":"FBRL","x":5380,"y":-0.7,"e":0.2},{"a":"FBRL","x":5500,"y":-0.1,"e":0.2},{"a":"FBRL","x":5600,"y":-0.3,"e":0.2},{"a":"FBRL","x":5700,"y":0.0,"e":0.2},{"a":"FBRL","x":5820,"y":-0.15,"e":0.2},{"a":"FBRL","x":5950,"y":-0.25,"e":0.2},{"a":"FBRL","x":6080,"y":-0.1,"e":0.2},{"a":"FBRL","x":6210,"y":-0.35,"e":0.2},{"a":"FBRL","x":6340,"y":-0.65,"e":0.2},{"a":"FBRL","x":6430,"y":-0.1,"e":0.2},{"a":"FBRL","x":6560,"y":0.0,"e":0.2},{"a":"FBRL","x":6660,"y":-0.78,"e":0.25},{"a":"FBRL","x":6780,"y":0.15,"e":0.2},{"a":"FBRL","x":6910,"y":-0.05,"e":0.2},{"a":"FBRL","x":7040,"y":0.0,"e":0.2},{"a":"FBRL","x":7170,"y":0.43,"e":0.25},{"a":"FBRL","x":7260,"y":-0.2,"e":0.2},{"a":"FBRL","x":7360,"y":-0.1,"e":0.2},{"a":"FBRL","x":7460,"y":-0.68,"e":0.2},{"a":"FBRL","x":7550,"y":0.0,"e":0.2},{"a":"FBRL","x":7680,"y":0.15,"e":0.2},{"a":"FBRL","x":7810,"y":-0.2,"e":0.2},{"a":"FBRL","x":7940,"y":0.28,"e":0.2},{"a":"FBRL","x":8060,"y":-0.3,"e":0.2},{"a":"FBRL","x":8160,"y":0.3,"e":0.2},{"a":"FBRL","x":8290,"y":-0.1,"e":0.2},{"a":"FBRL","x":8420,"y":-0.2,"e":0.2},{"a":"FBRL","x":8510,"y":0.2,"e":0.2},{"a":"FBRL","x":8640,"y":-0.5,"e":0.2},{"a":"FBRL","x":8740,"y":0.4,"e":0.2},{"a":"FBRL","x":8830,"y":0.1,"e":0.2},{"a":"FBRL","x":8960,"y":0.3,"e":0.2},{"a":"FBRL","x":9060,"y":0.56,"e":0.25},{"a":"FBRL","x":9150,"y":-0.78,"e":0.2},{"a":"FBRL","x":9280,"y":-0.2,"e":0.2},{"a":"FBRL","x":9410,"y":0.3,"e":0.2},{"a":"FBRL","x":9540,"y":-0.05,"e":0.2},{"a":"FBRL","x":9660,"y":-0.28,"e":0.2},{"a":"FBRL","x":9790,"y":0.2,"e":0.2},{"a":"FBRL","x":9920,"y":-0.25,"e":0.2},{"a":"FBRL","x":10020,"y":-0.94,"e":0.25},{"a":"FBRL","x":10110,"y":0.5,"e":0.2},{"a":"FBRL","x":10240,"y":0.0,"e":0.2},{"a":"FBRL","x":10370,"y":-0.25,"e":0.2},{"a":"FBRL","x":10500,"y":0.2,"e":0.2},{"a":"FBRL","x":10620,"y":0.5,"e":0.2},{"a":"FBRL","x":10720,"y":-0.23,"e":0.2},{"a":"FBRL","x":10820,"y":0.6,"e":0.2},{"a":"FBRL","x":10940,"y":0.3,"e":0.15},{"a":"FBRL","x":11070,"y":0.5,"e":0.15},{"a":"FBRL","x":11200,"y":0.3,"e":0.15},{"a":"FBRL","x":11330,"y":0.0,"e":0.15},{"a":"FBRL","x":11460,"y":0.33,"e":0.15},{"a":"FBRL","x":11580,"y":0.1,"e":0.15},{"a":"FBRL","x":11710,"y":0.33,"e":0.15},{"a":"FBRL","x":11840,"y":0.55,"e":0.15},{"a":"FBRL","x":11970,"y":0.33,"e":0.15},{"a":"FBRL","x":12100,"y":0.0,"e":0.15},{"a":"FBRL","x":12220,"y":0.33,"e":0.15},{"a":"FBRL","x":12350,"y":0.2,"e":0.15},{"a":"FBRL","x":12480,"y":0.33,"e":0.15},{"a":"FBRL","x":12610,"y":-0.1,"e":0.15},{"a":"FBRL","x":12740,"y":0.55,"e":0.15},{"a":"FBRL","x":12860,"y":0.33,"e":0.15},{"a":"FBRL","x":12990,"y":0.2,"e":0.15},{"a":"FBRL","x":13120,"y":0.45,"e":0.15},{"a":"FBRL","x":13250,"y":0.2,"e":0.15},{"a":"FBRL","x":13380,"y":0.55,"e":0.15},{"a":"FBRL","x":13500,"y":-0.2,"e":0.2},{"a":"FBRL","x":13630,"y":0.55,"e":0.15},{"a":"FBRL","x":13760,"y":0.3,"e":0.15},{"a":"FBRL","x":13890,"y":0.2,"e":0.15},{"a":"FBRL","x":14020,"y":0.55,"e":0.15},{"a":"FBRL","x":14140,"y":0.35,"e":0.15},{"a":"FBRL","x":14270,"y":0.92,"e":0.1},{"a":"FBRL","x":14400,"y":0.55,"e":0.15},{"a":"FBRL","x":14530,"y":0.2,"e":0.15},{"a":"FBRL","x":14660,"y":0.35,"e":0.15},{"a":"FBRL","x":14780,"y":0.55,"e":0.15},{"a":"FBRL","x":14910,"y":0.35,"e":0.15},{"a":"FBRL","x":15040,"y":0.92,"e":0.1},{"a":"FBRL","x":15170,"y":0.65,"e":0.1},{"a":"FBRL","x":15300,"y":0.9,"e":0.1},{"a":"FBRL","x":15420,"y":0.7,"e":0.1},{"a":"FBRL","x":15550,"y":0.92,"e":0.05},{"a":"FBRL","x":15680,"y":0.62,"e":0.1},{"a":"FBRL","x":15810,"y":0.92,"e":0.05},{"a":"FBRL","x":15940,"y":0.8,"e":0.05},{"a":"FBRL","x":16060,"y":0.92,"e":0.05},{"a":"FBRL","x":16190,"y":0.85,"e":0.05},{"a":"FBRL","x":16320,"y":0.92,"e":0.03},{"a":"FBRL","x":16450,"y":0.78,"e":0.05},{"a":"FBRL","x":16580,"y":0.92,"e":0.03},{"a":"FBRL","x":16740,"y":0.92,"e":0.03},{"a":"FBRL","x":16900,"y":0.92,"e":0.03},{"a":"FBRL","x":17060,"y":0.77,"e":0.05},{"a":"FBRL","x":17220,"y":0.92,"e":0.03},{"a":"FBRL","x":17350,"y":0.92,"e":0.03},{"a":"FBRL","x":17470,"y":0.92,"e":0.03},{"a":"FBRL","x":17600,"y":0.7,"e":0.05},{"a":"FBRL","x":17730,"y":0.92,"e":0.03},{"a":"FBRL","x":17860,"y":0.92,"e":0.03},{"a":"FBRL","x":18020,"y":0.77,"e":0.05},{"a":"FBRL","x":18180,"y":0.92,"e":0.03},{"a":"FBRL","x":18340,"y":0.92,"e":0.03},{"a":"FBRL","x":18500,"y":0.92,"e":0.03},{"a":"FBRL","x":18620,"y":0.92,"e":0.03},{"a":"FBRL","x":18750,"y":0.63,"e":0.05},{"a":"FBRL","x":18880,"y":0.92,"e":0.03},{"a":"FBRL","x":19010,"y":0.92,"e":0.03},{"a":"FBRL","x":19140,"y":0.92,"e":0.03},{"a":"FBRL","x":19330,"y":0.77,"e":0.05},{"a":"FBRL","x":19460,"y":0.92,"e":0.03},{"a":"FBRL","x":19650,"y":0.8,"e":0.05},{"a":"FBRL","x":19780,"y":0.56,"e":0.05},{"a":"FBRL","x":19900,"y":0.65,"e":0.05},{"a":"FBRL","x":20030,"y":0.62,"e":0.05},{"a":"FBRL","x":20160,"y":0.92,"e":0},{"a":"FBRL","x":20400,"y":0.92,"e":0},{"a":"FBRL","x":20650,"y":0.92,"e":0},{"a":"FBRL","x":20900,"y":0.92,"e":0},{"a":"FBRL","x":21150,"y":0.92,"e":0},{"a":"FBRL","x":21400,"y":0.92,"e":0},{"a":"FBRL","x":21650,"y":0.92,"e":0},{"a":"FBRL","x":21900,"y":0.92,"e":0},{"a":"FBRL","x":22150,"y":0.92,"e":0},{"a":"FBRL","x":22400,"y":0.92,"e":0},{"a":"FBRL","x":22650,"y":0.92,"e":0},{"a":"FBRL","x":22900,"y":0.92,"e":0},{"a":"FBRL","x":23150,"y":0.92,"e":0},{"a":"FBRL","x":23400,"y":0.92,"e":0},{"a":"FBRL","x":23500,"y":0.92,"e":0},{"a":"FBRL","x":23620,"y":0.8,"e":0.05},{"a":"FBRL","x":23740,"y":0.92,"e":0.05},{"a":"FBRL","x":23870,"y":0.72,"e":0.08},{"a":"FBRL","x":24000,"y":0.92,"e":0.05},{"a":"FBRL","x":24130,"y":0.65,"e":0.08},{"a":"FBRL","x":24260,"y":0.85,"e":0.08},{"a":"FBRL","x":24380,"y":0.63,"e":0.08},{"a":"FBRL","x":24510,"y":0.92,"e":0.05},{"a":"FBRL","x":24640,"y":0.8,"e":0.08},{"a":"FBRL","x":24770,"y":0.63,"e":0.08},{"a":"FBRL","x":24900,"y":0.7,"e":0.08},{"a":"FBRL","x":25020,"y":0.9,"e":0.08},{"a":"FBRL","x":25150,"y":0.63,"e":0.08},{"a":"FBRL","x":25280,"y":0.75,"e":0.08},{"a":"FBRL","x":25410,"y":0.63,"e":0.08},{"a":"FBRL","x":25540,"y":0.92,"e":0.05},{"a":"FBRL","x":25660,"y":0.63,"e":0.08},{"a":"FBRL","x":25790,"y":0.48,"e":0.1},{"a":"FBRL","x":25920,"y":0.92,"e":0.05},{"a":"FBRL","x":26050,"y":0.63,"e":0.08},{"a":"FBRL","x":26180,"y":0.92,"e":0.05},{"a":"FBRL","x":26300,"y":0.63,"e":0.08},{"a":"FBRL","x":26430,"y":0.92,"e":0.05},{"a":"FBRL","x":26560,"y":0.63,"e":0.08},{"a":"FBRL","x":26690,"y":0.63,"e":0.1},{"a":"FBRL","x":26820,"y":0.35,"e":0.2},{"a":"FBRL","x":26940,"y":0.05,"e":0.25},{"a":"FBRL","x":27070,"y":0.35,"e":0.25},{"a":"FBRL","x":27200,"y":0.0,"e":0.25},{"a":"FBRL","x":27330,"y":0.05,"e":0.25},{"a":"FBRL","x":27460,"y":-0.25,"e":0.25},{"a":"FBRL","x":27580,"y":0.05,"e":0.25},{"a":"FBRL","x":27710,"y":0.0,"e":0.25},{"a":"FBRL","x":27840,"y":-0.25,"e":0.25},{"a":"FBRL","x":27970,"y":0.05,"e":0.25},{"a":"FBRL","x":28100,"y":0.0,"e":0.25},{"a":"FBRL","x":28220,"y":-0.25,"e":0.25},{"a":"FBRL","x":28350,"y":0.1,"e":0.25},{"a":"FBRL","x":28480,"y":-0.1,"e":0.25},{"a":"FBRL","x":28610,"y":0.05,"e":0.25},{"a":"FBRL","x":28740,"y":-0.25,"e":0.25},{"a":"FBRL","x":28860,"y":0.0,"e":0.25},{"a":"FBRL","x":28990,"y":0.3,"e":0.25},{"a":"FBRL","x":29120,"y":-0.05,"e":0.25},{"a":"FBRL","x":29250,"y":-0.3,"e":0.25},{"a":"FBRL","x":29380,"y":-0.15,"e":0.25},{"a":"FBRL","x":29500,"y":-0.4,"e":0.25},{"a":"FBRL","x":29630,"y":-0.15,"e":0.25},{"a":"FBRL","x":29760,"y":-0.55,"e":0.3},{"a":"FBRL","x":29890,"y":-0.5,"e":0.3},{"a":"FBRL","x":30020,"y":-0.6,"e":0.3},{"a":"FBRL","x":30140,"y":-0.3,"e":0.3},{"a":"FBRL","x":30270,"y":-0.55,"e":0.3},{"a":"FBRL","x":30400,"y":-0.1,"e":0.3},{"a":"FBRL","x":30530,"y":-0.55,"e":0.3},{"a":"FBRL","x":30660,"y":-0.4,"e":0.3},{"a":"FBRL","x":30780,"y":-0.83,"e":0.3},{"a":"FBRL","x":30910,"y":0.0,"e":0.25},{"a":"FBRL","x":31040,"y":-0.25,"e":0.25},{"a":"FBRL","x":31170,"y":0.05,"e":0.25},{"a":"FBRL","x":31300,"y":0.3,"e":0.25},{"a":"FBRL","x":31420,"y":-0.1,"e":0.25},{"a":"FBRL","x":31550,"y":0.05,"e":0.25},{"a":"FBRL","x":31680,"y":0.35,"e":0.25},{"a":"FBRL","x":31810,"y":0.1,"e":0.25},{"a":"FBRL","x":31940,"y":-0.25,"e":0.25},{"a":"FBRL","x":32060,"y":0.3,"e":0.25},{"a":"FBRL","x":32190,"y":0.6,"e":0.2},{"a":"FBRL","x":32320,"y":0.7,"e":0.2},{"a":"FBRL","x":32450,"y":0.55,"e":0.2},{"a":"FBRL","x":32580,"y":0.85,"e":0.15},{"a":"FBRL","x":32700,"y":0.6,"e":0.2},{"a":"FBRL","x":32830,"y":0.4,"e":0.2},{"a":"FBRL","x":32960,"y":0.35,"e":0.2},{"a":"FBRL","x":33090,"y":0.0,"e":0.25},{"a":"FBRL","x":33220,"y":0.3,"e":0.25},{"a":"FBRL","x":33340,"y":0.1,"e":0.25},{"a":"FBRL","x":33470,"y":0.0,"e":0.25},{"a":"FBRL","x":33600,"y":-0.1,"e":0.25},{"a":"FBRL","x":33730,"y":0.3,"e":0.25},{"a":"FBRL","x":33860,"y":0.05,"e":0.25},{"a":"FBRL","x":33980,"y":0.35,"e":0.25},{"a":"FBRL","x":34110,"y":-0.1,"e":0.25},{"a":"FBRL","x":34240,"y":0.0,"e":0.25},{"a":"FBRL","x":34370,"y":0.2,"e":0.25},{"a":"FBRL","x":34500,"y":0.05,"e":0.25},{"a":"FBRL","x":34620,"y":0.0,"e":0.25},{"a":"FBRL","x":34750,"y":-0.05,"e":0.25},{"a":"FBRL","x":34880,"y":0.35,"e":0.25},{"a":"FBRL","x":35010,"y":-0.1,"e":0.25},{"a":"FBRL","x":35140,"y":0.0,"e":0.25},{"a":"FBRL","x":35260,"y":-0.25,"e":0.25},{"a":"FBRL","x":35390,"y":0.05,"e":0.25},{"a":"FBRL","x":35520,"y":-0.1,"e":0.25},{"a":"FBRL","x":35650,"y":0.35,"e":0.25},{"a":"FBRL","x":35780,"y":0.0,"e":0.25},{"a":"FBRL","x":35900,"y":-0.3,"e":0.25},{"a":"FBRL","x":36030,"y":0.1,"e":0.25},{"a":"FBRL","x":36160,"y":-0.35,"e":0.3},{"a":"FBRL","x":36290,"y":-0.37,"e":0.3},{"a":"FBRL","x":36420,"y":0.25,"e":0.25},{"a":"FBRL","x":36540,"y":0.45,"e":0.2},{"a":"FBRL","x":36670,"y":0.35,"e":0.2},{"a":"FBRL","x":36800,"y":0.6,"e":0.2},{"a":"FBRL","x":36930,"y":0.4,"e":0.2},{"a":"FBRL","x":37060,"y":0.3,"e":0.2},{"a":"FBRL","x":37180,"y":0.1,"e":0.2},{"a":"FBRL","x":37310,"y":0.55,"e":0.2},{"a":"FBRL","x":37440,"y":0.25,"e":0.2},{"a":"FBRL","x":37570,"y":0.35,"e":0.2},{"a":"FBRL","x":37700,"y":0.6,"e":0.2},{"a":"FBRL","x":37820,"y":0.3,"e":0.2},{"a":"FBRL","x":37950,"y":0.45,"e":0.2},{"a":"FBRL","x":38080,"y":0.1,"e":0.2},{"a":"FBRL","x":38210,"y":0.55,"e":0.2},{"a":"FBRL","x":38340,"y":0.4,"e":0.2},{"a":"FBRL","x":38460,"y":0.6,"e":0.2},{"a":"FBRL","x":38590,"y":0.25,"e":0.2},{"a":"FBRL","x":38720,"y":0.55,"e":0.2},{"a":"FBRL","x":38850,"y":0.0,"e":0.2},{"a":"FBRL","x":38980,"y":-0.25,"e":0.2},{"a":"FBRL","x":39100,"y":0.55,"e":0.2},{"a":"FBRL","x":39230,"y":0.3,"e":0.2},{"a":"FBRL","x":39360,"y":0.2,"e":0.2},{"a":"FBRL","x":39490,"y":0.55,"e":0.2},{"a":"FBRL","x":39620,"y":0.0,"e":0.2},{"a":"FBRL","x":39740,"y":0.35,"e":0.2},{"a":"FBRL","x":40000,"y":0.3,"e":0.2}
]
},
"hconcat": [
{
 "width": 418, "height": 384,
 "data": {"name": "left"},
 "encoding": {
  "x": {"field": "x", "type": "quantitative", "scale": {"domain": [0, 40000], "nice": false, "zero": false}, "axis": {"values": [0,5000,10000,15000,20000,25000,30000,35000,40000], "format": "d", "title": "Training Steps"}},
  "y": {"field": "y", "type": "quantitative", "scale": {"domain": [-0.57, 1.046], "nice": false, "zero": false}, "axis": {"values": [-0.4,-0.2,0,0.2,0.4,0.6,0.8,1.0], "format": ".1f", "title": "Average Reward"}},
  "color": {"field": "a", "type": "nominal", "scale": {"domain": ["DDQN","FBRL"], "range": ["#BF00BF","#0000FF"]}, "legend": {"title": null, "encode": {"symbols": {"update": {"fill": [{"test": "datum.value === 'DDQN'", "value": "#BF00BF"}, {"value": "#0000FF"}], "fillOpacity": {"value": 1}}}}}}
 },
 "layer": [
  {"mark": {"type": "errorband", "opacity": 0.22}, "encoding": {"yError": {"field": "e"}}},
  {"mark": {"type": "line", "strokeWidth": 2}, "encoding": {"strokeDash": {"field": "a", "type": "nominal", "scale": {"domain": ["DDQN","FBRL"], "range": [[1,0],[5,2]]}, "legend": {"title": null}}}},
  {"mark": {"type": "circle", "size": 36, "opacity": 1}}
 ]
},
{
 "width": 418, "height": 384,
 "data": {"name": "right"},
 "encoding": {
  "x": {"field": "x", "type": "quantitative", "scale": {"domain": [0, 40000], "nice": false, "zero": false}, "axis": {"values": [0,5000,10000,15000,20000,25000,30000,35000,40000], "format": "d", "title": "Training Steps"}},
  "y": {"field": "y", "type": "quantitative", "scale": {"domain": [-2.143, 1.081], "nice": false, "zero": false}, "axis": {"values": [-2,-1.5,-1,-0.5,0,0.5,1], "format": ".1f", "title": "Average Reward"}},
  "color": {"field": "a", "type": "nominal", "scale": {"domain": ["DDQN","FBRL"], "range": ["#BF00BF","#0000FF"]}, "legend": {"title": null, "encode": {"symbols": {"update": {"fill": [{"test": "datum.value === 'DDQN'", "value": "#BF00BF"}, {"value": "#0000FF"}], "fillOpacity": {"value": 1}}}}}}
 },
 "layer": [
  {"mark": {"type": "errorband", "opacity": 0.22}, "encoding": {"yError": {"field": "e"}}},
  {"mark": {"type": "line", "strokeWidth": 2}, "encoding": {"strokeDash": {"field": "a", "type": "nominal", "scale": {"domain": ["DDQN","FBRL"], "range": [[1,0],[5,2]]}, "legend": {"title": null}}}},
  {"mark": {"type": "circle", "size": 36, "opacity": 1}}
 ]
}
],
"resolve": {"scale": {"color": "independent", "strokeDash": "independent"}, "legend": {"color": "independent", "strokeDash": "independent"}}
}
